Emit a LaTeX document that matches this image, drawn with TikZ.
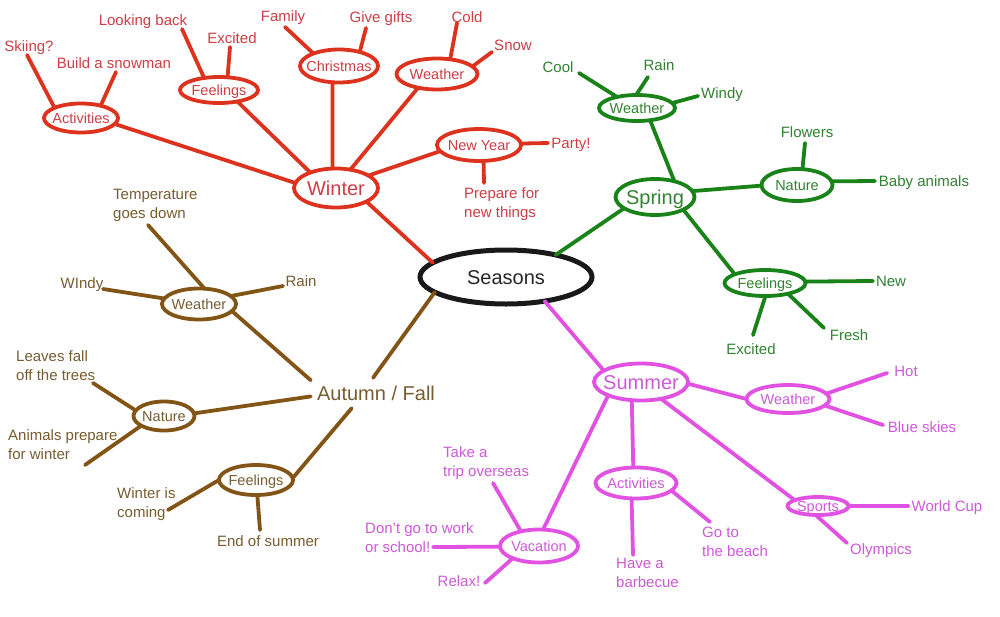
\documentclass[tikz,border=0pt]{standalone}
\usepackage{fontspec}
\setmainfont{Liberation Sans}
\usetikzlibrary{shapes.geometric}
\definecolor{wl}{RGB}{221,50,30}
\definecolor{wt}{RGB}{205,62,70}
\definecolor{gl}{RGB}{25,130,25}
\definecolor{gt}{RGB}{50,130,50}
\definecolor{bl}{RGB}{130,85,22}
\definecolor{bt}{RGB}{120,92,48}
\definecolor{ml}{RGB}{226,82,226}
\definecolor{mt}{RGB}{205,90,215}
\begin{document}
\begin{tikzpicture}[x=1pt,y=-1pt,
  ell/.style={ellipse, draw, line width=3.8pt, inner sep=0pt, outer sep=0pt},
  con/.style={line width=3.8pt, line cap=round},
  leaf/.style={font=\fontsize{15}{19}\selectfont, inner sep=0pt, text height=10.7pt, text depth=0pt},
  leaftwo/.style={font=\fontsize{15}{19}\selectfont, inner sep=0pt, align=left, anchor=north west},
  lab/.style={font=\fontsize{14.5}{17}\selectfont, inner sep=0pt, text height=10.4pt, text depth=0pt},
  big/.style={font=\fontsize{20}{24}\selectfont, inner sep=0pt, text height=14.3pt, text depth=0pt}]
\fill[white] (0,0) rectangle (1000,616);
\useasboundingbox (0,0) rectangle (1000,616);

% ---------- centre ----------
\node[ell, draw=black!90, line width=5pt, minimum width=172pt, minimum height=54pt,
  label={[big,text=black!85]center:Seasons}] (sea) at (506,277) {};

% ---------- Winter ----------
\node[ell, draw=wl, minimum width=84pt, minimum height=39pt, label={[big,text=wt]center:Winter}] (win) at (336,188) {};
\node[ell, draw=wl, minimum width=74pt, minimum height=29pt, label={[lab,text=wt]center:Activities}] (wact) at (81,118) {};
\node[ell, draw=wl, minimum width=78pt, minimum height=26pt, label={[lab,text=wt]center:Feelings}] (wfee) at (219,90) {};
\node[ell, draw=wl, minimum width=78pt, minimum height=33pt, label={[lab,text=wt]center:Christmas}] (wchr) at (339,66) {};
\node[ell, draw=wl, minimum width=81pt, minimum height=31pt, label={[lab,text=wt]center:Weather}] (wwea) at (437,74) {};
\node[ell, draw=wl, minimum width=84pt, minimum height=32pt, label={[lab,text=wt]center:New Year}] (wny) at (479,145) {};

\node[leaf, text=wt] (ski) at (29,46) {Skiing?};
\node[leaf, text=wt] (bsn) at (114,63) {Build a snowman};
\node[leaf, text=wt] (lkb) at (143,20) {Looking back};
\node[leaf, text=wt] (wex) at (232,38) {Excited};
\node[leaf, text=wt] (fam) at (283,16) {Family};
\node[leaf, text=wt] (gif) at (381,17) {Give gifts};
\node[leaf, text=wt] (cld) at (467,17) {Cold};
\node[leaf, text=wt] (snw) at (513,45) {Snow};
\node[leaf, text=wt] (pty) at (571,143) {Party!};
\node[leaftwo, text=wt] (prp) at (464,187.5) {Prepare for\\new things};

\coordinate (k1) at (27,55);
\coordinate (k2) at (116,72);
\coordinate (k3) at (182,29);
\coordinate (k4) at (230,47);
\coordinate (k5) at (285,27);
\coordinate (k6) at (366,28);
\coordinate (k7) at (457,23);
\coordinate (k8) at (492,52);
\coordinate (k9) at (548,143);
\coordinate (k10) at (484,183);

\begin{scope}[con, wl]
\draw (win.-24) -- (sea.169.6);
\draw (win.173) -- (wact.-10);
\draw (win.149.5) -- (wfee.-32);
\draw (win.100.8) -- (wchr.-112);
\draw (win.52.7) -- (wwea.-144);
\draw (win.21) -- (wny.189.5);
\draw (wact.159) -- (k1);
\draw (wact.32.6) -- (k2);
\draw (wfee.141.7) -- (k3);
\draw (wfee.56) -- (k4);
\draw (wchr.154) -- (k5);
\draw (wchr.34.8) -- (k6);
\draw (wwea.48.6) -- (k7);
\draw (wwea.12.7) -- (k8);
\draw (wny.2.6) -- (k9);
\draw (wny.-74.5) -- (k10);
\end{scope}

% ---------- Spring ----------
\node[ell, draw=gl, minimum width=79pt, minimum height=36pt, label={[big,text=gt]center:Spring}] (spr) at (655,197) {};
\node[ell, draw=gl, minimum width=76pt, minimum height=26pt, label={[lab,text=gt]center:Weather}] (swea) at (637,108) {};
\node[ell, draw=gl, minimum width=71pt, minimum height=32pt, label={[lab,text=gt]center:Nature}] (snat) at (797,185) {};
\node[ell, draw=gl, minimum width=81pt, minimum height=26pt, label={[lab,text=gt]center:Feelings}] (sfee) at (765,283) {};

\node[leaf, text=gt] (col) at (558,67) {Cool};
\node[leaf, text=gt] (srn) at (659,65) {Rain};
\node[leaf, text=gt] (swd) at (722,93) {Windy};
\node[leaf, text=gt] (flw) at (807,132) {Flowers};
\node[leaf, text=gt] (bab) at (924,181) {Baby animals};
\node[leaf, text=gt] (new) at (891,281) {New};
\node[leaf, text=gt] (frs) at (849,335) {Fresh};
\node[leaf, text=gt] (sex) at (751,349) {Excited};

\coordinate (g1) at (579,73);
\coordinate (g2) at (648,77);
\coordinate (g3) at (698,96);
\coordinate (g4) at (805,143);
\coordinate (g5) at (875,181);
\coordinate (g6) at (873,281);
\coordinate (g7) at (824,328);
\coordinate (g8) at (753,335);

\begin{scope}[con, gl]
\draw (spr.200.4) -- (sea.24);
\draw (spr.39.8) -- (swea.-43);
\draw (spr.9.5) -- (snat.181.5);
\draw (spr.-24.4) -- (sfee.164);
\draw (swea.151.6) -- (g1);
\draw (swea.94) -- (g2);
\draw (swea.8) -- (g3);
\draw (snat.71.6) -- (g4);
\draw (snat.6) -- (g5);
\draw (sfee.2.7) -- (g6);
\draw (sfee.-25.7) -- (g7);
\draw (sfee.-88) -- (g8);
\end{scope}

% ---------- Autumn ----------
\node[big, text=bt, minimum width=130pt, minimum height=30pt] (aut) at (376,393) {Autumn / Fall};
\node[ell, draw=bl, minimum width=74pt, minimum height=31pt, label={[lab,text=bt]center:Weather}] (awea) at (199,304) {};
\node[ell, draw=bl, minimum width=61pt, minimum height=29pt, label={[lab,text=bt]center:Nature}] (anat) at (164,416) {};
\node[ell, draw=bl, minimum width=74pt, minimum height=30pt, label={[lab,text=bt]center:Feelings}] (afee) at (256,480) {};

\node[leaftwo, text=bt] (tmp) at (113,188.5) {Temperature\\goes down};
\node[leaf, text=bt] (awd) at (82,283) {WIndy};
\node[leaf, text=bt] (arn) at (301,281) {Rain};
\node[leaftwo, text=bt] (lvs) at (16,350.5) {Leaves fall\\off the trees};
\node[leaftwo, text=bt] (anm) at (8,429.5) {Animals prepare\\for winter};
\node[leaftwo, text=bt] (wic) at (117,487.5) {Winter is\\coming};
\node[leaf, text=bt] (eos) at (268,541) {End of summer};

\coordinate (a1) at (148,225);
\coordinate (a2) at (103,289);
\coordinate (a3) at (283,286);
\coordinate (a4) at (93,383);
\coordinate (a5) at (85,465);
\coordinate (a6) at (168,510);
\coordinate (a7) at (260,530);

\begin{scope}[con, bl]
\draw (aut.101) -- (sea.-168);
\draw (aut.169.4) -- (awea.-12.5);
\draw (aut.183.6) -- (anat.5.5);
\draw (aut.212.3) -- (afee.3);
\draw (awea.70.6) -- (a1);
\draw (awea.171) -- (a2);
\draw (awea.14) -- (a3);
\draw (anat.169) -- (a4);
\draw (anat.203) -- (a5);
\draw (afee.180) -- (a6);
\draw (afee.-85) -- (a7);
\end{scope}

% ---------- Summer ----------
\node[ell, draw=ml, minimum width=94pt, minimum height=37pt, label={[big,text=mt]center:Summer}] (sum) at (641,382) {};
\node[ell, draw=ml, minimum width=83pt, minimum height=28pt, label={[lab,text=mt]center:Weather}] (uwea) at (788,399) {};
\node[ell, draw=ml, minimum width=81pt, minimum height=31pt, label={[lab,text=mt]center:Activities}] (uact) at (636,483) {};
\node[ell, draw=ml, minimum width=61pt, minimum height=18pt, label={[lab,text=mt]center:Sports}] (uspo) at (818,506) {};
\node[ell, draw=ml, minimum width=78pt, minimum height=33pt, label={[lab,text=mt]center:Vacation}] (uvac) at (539,546) {};

\node[leaftwo, text=mt] (trp) at (443,446.5) {Take a\\trip overseas};
\node[leaftwo, text=mt] (dgw) at (365,522.5) {Don't go to work\\or school!};
\node[leaf, text=mt] (rlx) at (459,581) {Relax!};
\node[leaftwo, text=mt] (bbq) at (616,557.5) {Have a\\barbecue};
\node[leaftwo, text=mt] (bch) at (702,526.5) {Go to\\the beach};
\node[leaf, text=mt] (hot) at (906,371) {Hot};
\node[leaf, text=mt] (bls) at (922,427) {Blue skies};
\node[leaf, text=mt] (wcp) at (947,506) {World Cup};
\node[leaf, text=mt] (oly) at (881,549) {Olympics};

\coordinate (m1) at (887,373);
\coordinate (m2) at (883,425);
\coordinate (m3) at (633,555);
\coordinate (m4) at (710,522);
\coordinate (m5) at (908,506);
\coordinate (m6) at (847,543);
\coordinate (m7) at (493,483);
\coordinate (m8) at (433,547);
\coordinate (m9) at (485,583);

\begin{scope}[con, ml]
\draw (sum.163.7) -- (sea.-32.4);
\draw (sum.-2) -- (uwea.180);
\draw (sum.-40.4) -- (uspo.166.5);
\draw (sum.-117.8) -- (uact.100);
\draw (sum.202) -- (uvac.76);
\draw (uwea.8) -- (m1);
\draw (uwea.-10) -- (m2);
\draw (uact.-106) -- (m3);
\draw (uact.-12.4) -- (m4);
\draw (uspo.0) -- (m5);
\draw (uspo.-105) -- (m6);
\draw (uvac.141) -- (m7);
\draw (uvac.181) -- (m8);
\draw (uvac.205) -- (m9);
\end{scope}
\end{tikzpicture}
\end{document}
